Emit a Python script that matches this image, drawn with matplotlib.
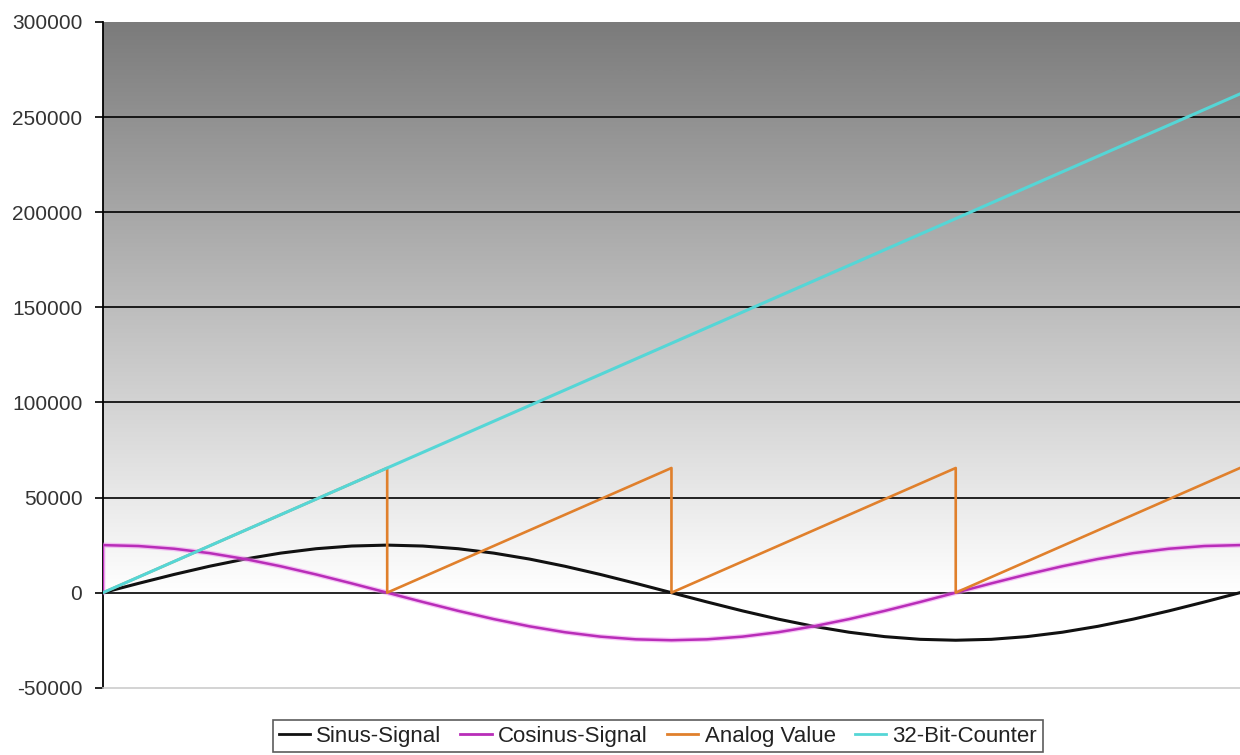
import numpy as np
import matplotlib
matplotlib.use("Agg")
import matplotlib.pyplot as plt

plt.rcParams['font.family'] = ['Liberation Sans', 'DejaVu Sans']

# Sample index along the x axis (one full signal period = 32 steps)
steps = list(range(33))

sinus_signal = [0, 4880, 9570, 13890, 17680, 20790, 23100, 24520, 25000,
                24520, 23100, 20790, 17680, 13890, 9570, 4880, 0,
                -4880, -9570, -13890, -17680, -20790, -23100, -24520, -25000,
                -24520, -23100, -20790, -17680, -13890, -9570, -4880, 0]

cosinus_steps = [0] + steps
cosinus_signal = [0, 25000, 24520, 23100, 20790, 17680, 13890, 9570, 4880, 0,
                  -4880, -9570, -13890, -17680, -20790, -23100, -24520, -25000,
                  -24520, -23100, -20790, -17680, -13890, -9570, -4880, 0,
                  4880, 9570, 13890, 17680, 20790, 23100, 24520, 25000]

analog_steps = [0, 8, 8, 16, 16, 24, 24, 32]
analog_value = [0, 65536, 0, 65536, 0, 65536, 0, 65536]

counter_steps = [0, 32]
counter_value = [0, 262144]

y_ticks = [-50000, 0, 50000, 100000, 150000, 200000, 250000, 300000]
legend_labels = ["Sinus-Signal", "Cosinus-Signal", "Analog Value", "32-Bit-Counter"]

fig = plt.figure(figsize=(12.4, 7.55), dpi=100)
ax = fig.add_axes([0.083, 0.089, 0.917, 0.882])

ymin, ymax = -50000, 300000
xmin, xmax = 0, 32

# Grey-to-white background gradient above the zero line
grad = np.linspace(123 / 255, 1.0, 256).reshape(-1, 1)
ax.imshow(np.dstack([grad, grad, grad]), extent=[xmin, xmax, 0, ymax],
          origin='upper', aspect='auto', zorder=0, interpolation='bilinear')

for t in y_ticks[1:-1]:
    ax.axhline(t, color='black', lw=1.2, zorder=1)

ax.plot(steps, sinus_signal, color='#111111', lw=2.2, zorder=3,
        label=legend_labels[0])
ax.plot(cosinus_steps, cosinus_signal, color='#ee88ee', lw=3.6, alpha=0.5,
        zorder=3)
ax.plot(cosinus_steps, cosinus_signal, color='#b82db8', lw=1.8, zorder=3,
        label=legend_labels[1])
ax.plot(analog_steps, analog_value, color='#e0802c', lw=1.9, zorder=3,
        label=legend_labels[2])
ax.plot(counter_steps, counter_value, color='#55d6d6', lw=2.2, zorder=4,
        label=legend_labels[3])

ax.set_xlim(xmin, xmax)
ax.set_ylim(ymin, ymax)
ax.set_yticks(y_ticks)
ax.set_yticklabels([str(t) for t in y_ticks], fontsize=15, color='#333333')
ax.set_xticks([])
ax.tick_params(axis='y', direction='out', length=5.8, width=1.2, pad=9)

for side in ('top', 'right'):
    ax.spines[side].set_visible(False)
ax.spines['left'].set_color('black')
ax.spines['left'].set_linewidth(1.3)
ax.spines['bottom'].set_color('#cccccc')
ax.spines['bottom'].set_linewidth(1.2)

leg = fig.legend(loc='upper left', bbox_to_anchor=(273 / 1240, 1 - 720 / 755),
                 ncol=4, fontsize=16, frameon=True, fancybox=False,
                 edgecolor='#333333', handlelength=1.4, handletextpad=0.3,
                 columnspacing=0.85, borderpad=0.25, borderaxespad=0)
leg.get_frame().set_linewidth(1.2)
for txt in leg.get_texts():
    txt.set_color('#222222')
for line in leg.get_lines():
    line.set_linewidth(2.0)

fig.savefig("out.png", dpi=100, facecolor='white')
